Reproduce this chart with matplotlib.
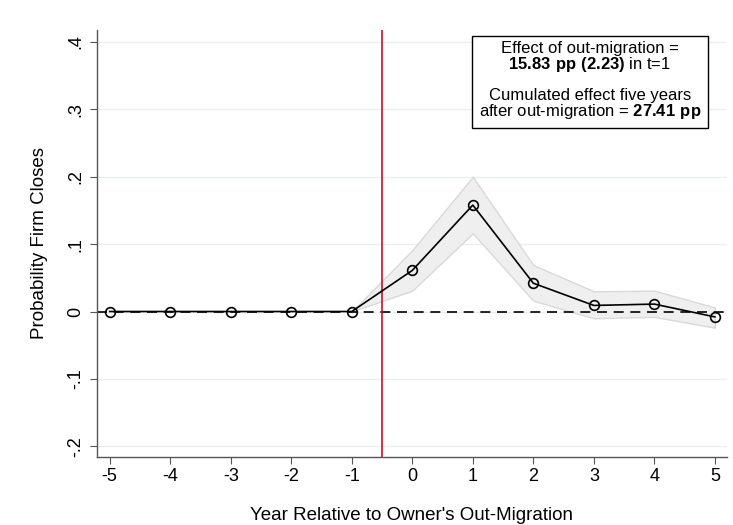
import numpy as np
import matplotlib
matplotlib.use("Agg")
import matplotlib.pyplot as plt

plt.rcParams["font.family"] = ["Liberation Sans", "DejaVu Sans"]
plt.rcParams["mathtext.fontset"] = "custom"
plt.rcParams["mathtext.rm"] = "Liberation Sans"
plt.rcParams["mathtext.bf"] = "Liberation Sans:bold"

# === Data ===
years = [-5, -4, -3, -2, -1, 0, 1, 2, 3, 4, 5]
coef = [0, 0, 0, 0, 0, 0.061, 0.158, 0.042, 0.009, 0.011, -0.008]
ci_low = [0, 0, 0, 0, 0, 0.031, 0.116, 0.016, -0.010, -0.008, -0.024]
ci_high = [0, 0, 0, 0, 0, 0.091, 0.200, 0.069, 0.030, 0.031, 0.006]
yticks = [-0.2, -0.1, 0, 0.1, 0.2, 0.3, 0.4]
ytick_labels = ["-.2", "-.1", "0", ".1", ".2", ".3", ".4"]

fig = plt.figure(figsize=(7.33, 5.25), dpi=100)
ax = fig.add_axes([0.1323, 0.1295, 0.8595, 0.8135])

# grid
for yt in yticks:
    ax.axhline(yt, color="#e8f0f2", lw=1.0, zorder=0)

# CI band from t=-1 onwards
ax.fill_between(years[4:], ci_low[4:], ci_high[4:], color="#efefef",
                edgecolor="#d9d9d9", lw=1.0, zorder=1)

ax.axhline(0, color="black", lw=1.2, ls=(0, (6, 4)), zorder=2)
ax.axvline(-0.5, color="#c8102e", lw=1.2, zorder=3)
ax.plot(years, coef, color="black", lw=1.2, marker="o", markersize=7,
        markerfacecolor="none", markeredgecolor="black", markeredgewidth=1.2, zorder=4)

ax.set_xlim(-5.21, 5.2)
ax.set_ylim(-0.216, 0.418)
ax.set_xticks(years)
ax.set_xticklabels([str(y) for y in years])
ax.set_yticks(yticks)
ax.set_yticklabels(ytick_labels, rotation=90, va="center")

for s in ["top", "right"]:
    ax.spines[s].set_visible(False)
for s in ["left", "bottom"]:
    ax.spines[s].set_color("#555555")
    ax.spines[s].set_linewidth(1.0)
ax.tick_params(axis="both", colors="#555555", labelcolor="black", labelsize=13, length=5)
ax.tick_params(axis="y", pad=4)
ax.tick_params(axis="x", pad=3)

ax.set_ylabel("Probability Firm Closes", fontsize=13.5, labelpad=14)
ax.set_xlabel("Year Relative to Owner's Out-Migration", fontsize=13.5, labelpad=16)

# annotation box
txt = ("Effect of out-migration =\n"
       r"$\mathbf{15.83\ pp\ (2.23)}$ in t=1" "\n\n"
       "Cumulated effect five years\n"
       r"after out-migration = $\mathbf{27.41\ pp}$")
ax.text(0.7825, 0.975, txt, transform=ax.transAxes, ha="center", va="top",
        fontsize=12, linespacing=0.95,
        bbox=dict(boxstyle="square,pad=0.4", facecolor="white", edgecolor="black", lw=1.0),
        zorder=5)

plt.savefig("out.png", dpi=100)
